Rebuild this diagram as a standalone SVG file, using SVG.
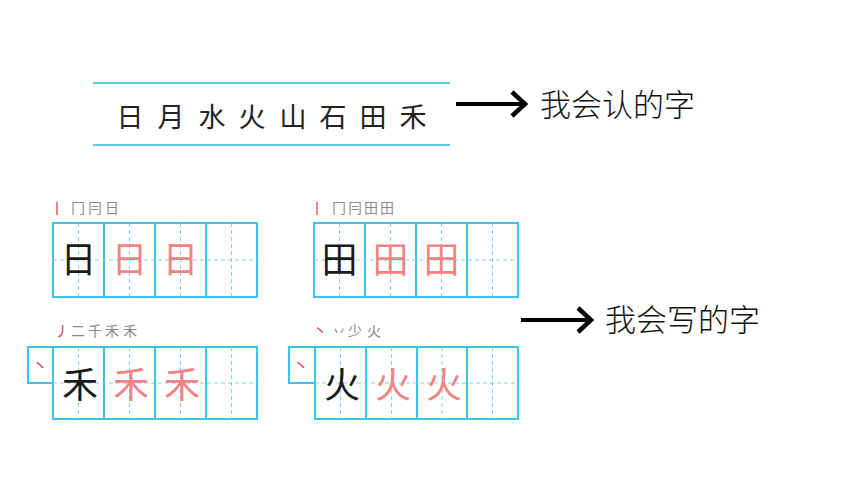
<svg xmlns="http://www.w3.org/2000/svg" width="860" height="484" viewBox="0 0 860 484">
<style>
.bg{fill:#ffffff}
.band{stroke:#5cc9ea;stroke-width:2;fill:none}
.grid{stroke:#3fc2ea;stroke-width:2;fill:none}
.mid{stroke:#7dd3ef;stroke-width:1;stroke-dasharray:4 3;fill:none}
.cjk{font-family:"Noto Sans CJK SC","Noto Sans CJK TC",sans-serif}
.top{font-size:27px;fill:#222222;text-anchor:middle}
.big{font-size:36px;text-anchor:middle}
.blk{fill:#1a1a1a}
.pink{fill:#f08484}
.so{font-size:14px;text-anchor:middle;fill:#8a8a8a}
.red{fill:#e0303a}
.lbl{font-size:31px;fill:#111111;font-weight:300}
.arr{stroke:#000;stroke-width:4;fill:none}
.head{stroke:#000;stroke-width:4.5;fill:none;stroke-linejoin:miter}
</style>
<rect class="bg" width="860" height="484"/>

<g id="node-recognize">
<line class="band" x1="93" y1="83" x2="450" y2="83"/>
<line class="band" x1="93" y1="145" x2="450" y2="145"/>
<g class="cjk top">
<text x="130" y="127">日</text>
<text x="171" y="127">月</text>
<text x="212" y="127">水</text>
<text x="252" y="127">火</text>
<text x="293" y="127">山</text>
<text x="333" y="127">石</text>
<text x="373" y="127">田</text>
<text x="413" y="127">禾</text>
</g>
</g>

<g id="node-ri">
<g class="cjk so">
<text class="red" x="57" y="213">丨</text>
<text x="78" y="213">冂</text>
<text x="95" y="213">冃</text>
<text x="112" y="213">日</text>
</g>
<rect class="grid" x="53" y="223" width="204" height="74"/>
<line class="grid" x1="104" y1="223" x2="104" y2="297"/>
<line class="grid" x1="155" y1="223" x2="155" y2="297"/>
<line class="grid" x1="206" y1="223" x2="206" y2="297"/>
<line class="mid" x1="53" y1="260" x2="257" y2="260"/>
<line class="mid" x1="78.5" y1="223" x2="78.5" y2="297"/>
<line class="mid" x1="129.5" y1="223" x2="129.5" y2="297"/>
<line class="mid" x1="180.5" y1="223" x2="180.5" y2="297"/>
<line class="mid" x1="231.5" y1="223" x2="231.5" y2="297"/>
<g class="cjk big">
<text class="blk" x="78.5" y="273">日</text>
<text class="pink" x="129.5" y="273">日</text>
<text class="pink" x="180.5" y="273">日</text>
</g>
</g>

<g id="node-tian">
<g class="cjk so">
<text class="red" x="317" y="213">丨</text>
<text x="339" y="213">冂</text>
<text x="355" y="213">冃</text>
<text x="371" y="213">田</text>
<text x="387" y="213">田</text>
</g>
<rect class="grid" x="314" y="223" width="204" height="74"/>
<line class="grid" x1="365" y1="223" x2="365" y2="297"/>
<line class="grid" x1="416" y1="223" x2="416" y2="297"/>
<line class="grid" x1="467" y1="223" x2="467" y2="297"/>
<line class="mid" x1="314" y1="260" x2="518" y2="260"/>
<line class="mid" x1="339.5" y1="223" x2="339.5" y2="297"/>
<line class="mid" x1="390.5" y1="223" x2="390.5" y2="297"/>
<line class="mid" x1="441.5" y1="223" x2="441.5" y2="297"/>
<line class="mid" x1="492.5" y1="223" x2="492.5" y2="297"/>
<g class="cjk big">
<text class="blk" x="339.5" y="273">田</text>
<text class="pink" x="390.5" y="273">田</text>
<text class="pink" x="441.5" y="273">田</text>
</g>
</g>

<g id="node-he">
<g class="cjk so">
<text class="red" x="62" y="336">丿</text>
<text x="78" y="336">二</text>
<text x="95" y="336">千</text>
<text x="112" y="336">禾</text>
<text x="130" y="336">禾</text>
</g>
<rect class="grid" x="28" y="347" width="25" height="36"/>
<text class="cjk red" x="40" y="372" font-size="16" text-anchor="middle">丶</text>
<rect class="grid" x="53" y="347" width="204" height="72"/>
<line class="grid" x1="104" y1="347" x2="104" y2="419"/>
<line class="grid" x1="155" y1="347" x2="155" y2="419"/>
<line class="grid" x1="206" y1="347" x2="206" y2="419"/>
<line class="mid" x1="53" y1="383" x2="257" y2="383"/>
<line class="mid" x1="78.5" y1="347" x2="78.5" y2="419"/>
<line class="mid" x1="129.5" y1="347" x2="129.5" y2="419"/>
<line class="mid" x1="180.5" y1="347" x2="180.5" y2="419"/>
<line class="mid" x1="231.5" y1="347" x2="231.5" y2="419"/>
<g class="cjk big">
<text class="blk" x="80" y="398">禾</text>
<text class="pink" x="131" y="398">禾</text>
<text class="pink" x="182" y="398">禾</text>
</g>
</g>

<g id="node-huo">
<g class="cjk so">
<text class="red" x="320" y="336">丶</text>
<text x="339" y="336">丷</text>
<text x="355" y="336">少</text>
<text x="374" y="336">火</text>
</g>
<rect class="grid" x="289" y="347" width="26" height="36"/>
<text class="cjk red" x="301" y="372" font-size="16" text-anchor="middle">丶</text>
<rect class="grid" x="315" y="347" width="203" height="72"/>
<line class="grid" x1="366" y1="347" x2="366" y2="419"/>
<line class="grid" x1="417" y1="347" x2="417" y2="419"/>
<line class="grid" x1="467" y1="347" x2="467" y2="419"/>
<line class="mid" x1="315" y1="383" x2="518" y2="383"/>
<line class="mid" x1="340.5" y1="347" x2="340.5" y2="419"/>
<line class="mid" x1="391.5" y1="347" x2="391.5" y2="419"/>
<line class="mid" x1="442" y1="347" x2="442" y2="419"/>
<line class="mid" x1="492.5" y1="347" x2="492.5" y2="419"/>
<g class="cjk big">
<text class="blk" x="342" y="398">火</text>
<text class="pink" x="393" y="398">火</text>
<text class="pink" x="444" y="398">火</text>
</g>
</g>

<g id="connectors">
<line class="arr" x1="456" y1="104" x2="524" y2="104"/>
<polyline class="head" points="512,92 525,104 512,116"/>
<line class="arr" x1="521" y1="320" x2="590" y2="320"/>
<polyline class="head" points="578,308 591,320 578,332"/>
</g>

<g id="node-labels">
<text class="cjk lbl" x="540" y="116">我会认的字</text>
<text class="cjk lbl" x="605" y="331">我会写的字</text>
</g>
</svg>
